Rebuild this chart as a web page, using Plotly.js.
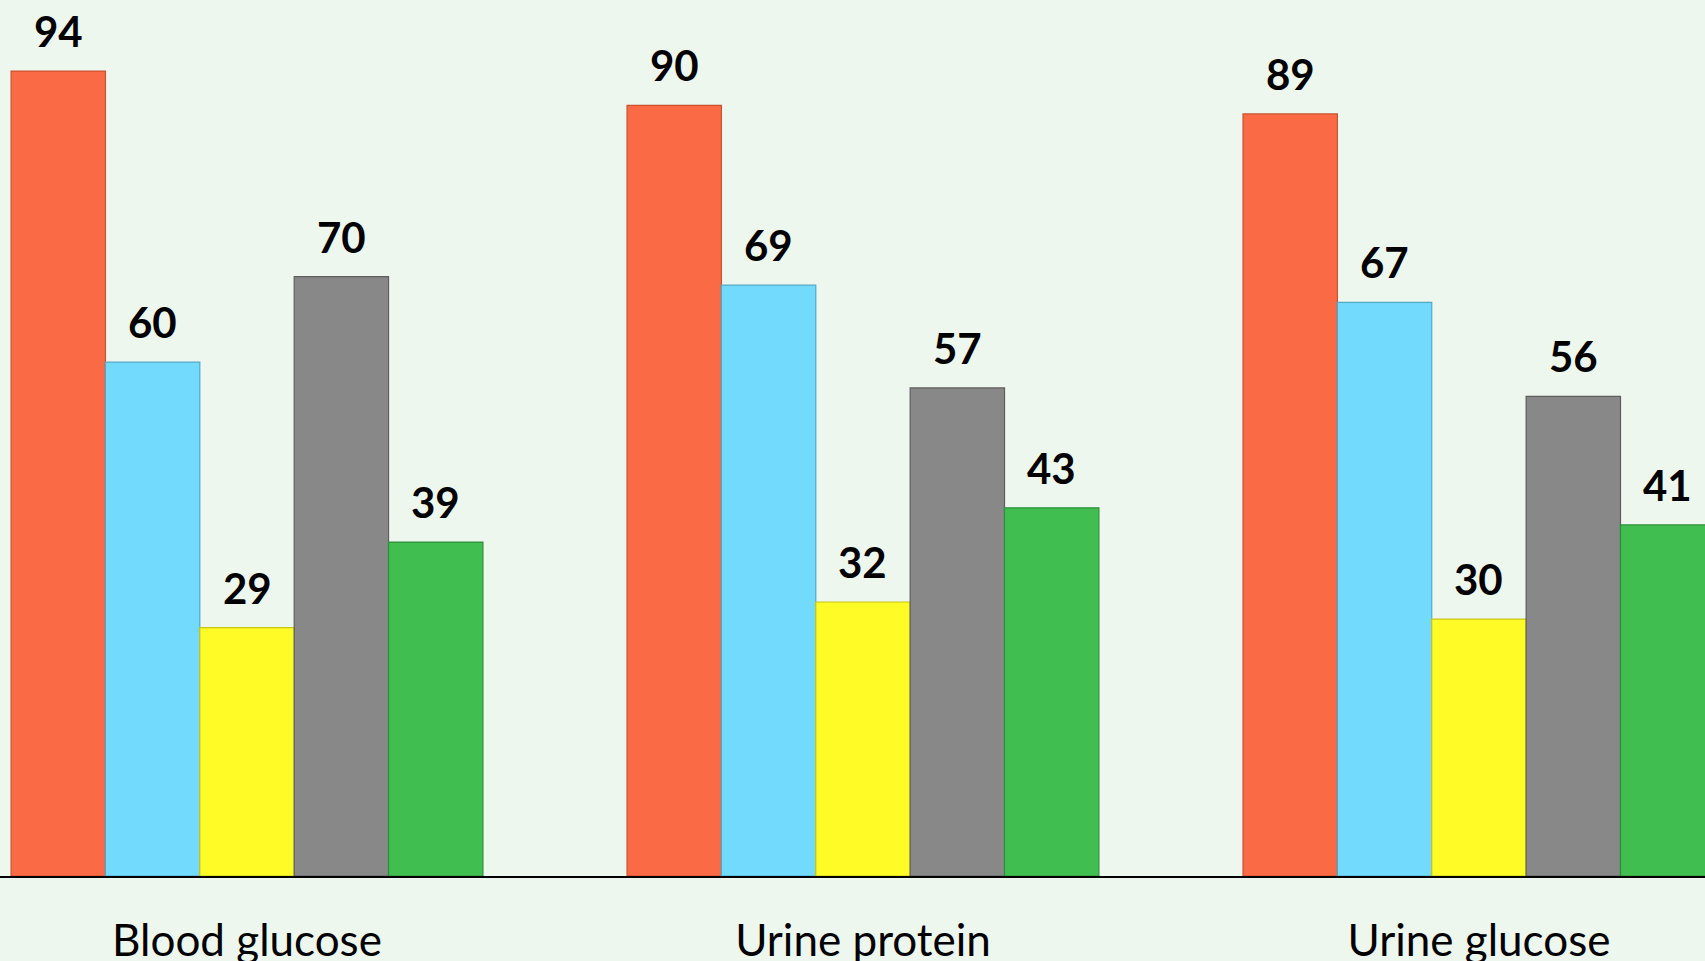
<!DOCTYPE html>
<html>
<head>
<meta charset="utf-8">
<script src="https://cdn.plot.ly/plotly-3.0.1.min.js"></script>
<style>
html,body{margin:0;padding:0;background:#EDF7EE;}
#chart{width:1705px;height:961px;}
</style>
</head>
<body>
<div id="chart"></div>
<script>
// ---- data ----
const categories = ["Blood glucose", "Urine protein", "Urine glucose"];
const seriesNames = ["Series 1", "Series 2", "Series 3", "Series 4", "Series 5"];
const series1 = [94, 90, 89];
const series2 = [60, 69, 67];
const series3 = [29, 32, 30];
const series4 = [70, 57, 56];
const series5 = [39, 43, 41];
const seriesValues = [series1, series2, series3, series4, series5];

// ---- style ----
const fillColors = ["#FA6B45", "#72DAFD", "#FFFB27", "#888888", "#40BF50"];
const edgeColors = ["#C9522F", "#4FA9C9", "#C9C416", "#5E5E5E", "#2C8F3A"];
const BARGAP = 0.234;
const nSeries = seriesValues.length;
const barW = (1 - BARGAP) / nSeries;

const traces = seriesValues.map((vals, j) => ({
  type: "bar",
  name: seriesNames[j],
  x: categories,
  y: vals,
  marker: {color: fillColors[j], line: {color: edgeColors[j], width: 1.2}},
  hoverinfo: "x+y+name"
}));

const annotations = [];
seriesValues.forEach((vals, j) => {
  vals.forEach((v, i) => {
    annotations.push({
      x: i + (j - (nSeries - 1) / 2) * barW,
      y: v,
      xref: "x", yref: "y",
      text: "<b>" + v + "</b>",
      showarrow: false,
      yanchor: "bottom",
      yshift: 13,
      font: {family: "Lato, 'DejaVu Sans', sans-serif", size: 42, color: "#000000"}
    });
  });
});

const layout = {
  width: 1705, height: 961,
  margin: {l: 0, r: 0, t: 0, b: 85},
  paper_bgcolor: "#EDF7EE",
  plot_bgcolor: "#EDF7EE",
  barmode: "group",
  bargap: BARGAP,
  bargroupgap: 0,
  showlegend: false,
  xaxis: {
    type: "category",
    range: [-0.401, 2.367],
    showline: true, linecolor: "#000000", linewidth: 1.5,
    showgrid: false, zeroline: false,
    ticks: "", ticklabelstandoff: 25,
    tickfont: {family: "Lato, 'DejaVu Sans', sans-serif", size: 44, color: "#000000"},
    fixedrange: true
  },
  yaxis: {
    range: [0, 102.3],
    showgrid: false, zeroline: false, showline: false,
    showticklabels: false, ticks: "",
    fixedrange: true
  },
  annotations: annotations
};

Plotly.newPlot("chart", traces, layout, {displayModeBar: false, responsive: false});
</script>
</body>
</html>
